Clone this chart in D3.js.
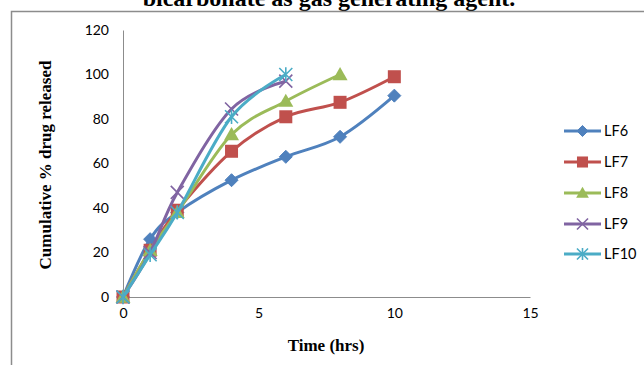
<!DOCTYPE html>
<html>
<head>
<meta charset="utf-8">
<script src="https://cdn.jsdelivr.net/npm/d3@7"></script>
<style>
  html, body { margin: 0; padding: 0; background: #fff; }
  svg { display: block; }
</style>
</head>
<body>
<svg id="chart" width="644" height="365"></svg>
<script>
// Dissolution profiles: time (hrs) vs cumulative % drug released
const seriesNames = ["LF6", "LF7", "LF8", "LF9", "LF10"];
const timesLF6 = [0, 1, 2, 4, 6, 8, 10];
const valuesLF6 = [0, 26, 38, 52.5, 63, 72, 90.5];
const timesLF7 = [0, 1, 2, 4, 6, 8, 10];
const valuesLF7 = [0, 21, 39, 65.5, 81, 87.5, 99];
const timesLF8 = [0, 1, 2, 4, 6, 8];
const valuesLF8 = [0, 21, 38, 73, 88, 100];
const timesLF9 = [0, 1, 2, 4, 6];
const valuesLF9 = [0, 20, 47, 84.5, 97];
const timesLF10 = [0, 1, 2, 4, 6];
const valuesLF10 = [0, 19, 38, 81, 100];
const xTicks = [0, 5, 10, 15];
const yTicks = [0, 20, 40, 60, 80, 100, 120];
const colors = ["#4F81BD", "#C0504D", "#9BBB59", "#8064A2", "#4BACC6"];
const markers = ["diamond", "square", "triangle", "cross", "star"];

const allTimes = [timesLF6, timesLF7, timesLF8, timesLF9, timesLF10];
const allValues = [valuesLF6, valuesLF7, valuesLF8, valuesLF9, valuesLF10];
const series = seriesNames.map((name, i) => ({
  name, color: colors[i], marker: markers[i],
  points: allTimes[i].map((t, j) => ({ t, v: allValues[i][j] }))
}));

const svg = d3.select("#chart");

// Caption line, sitting above the chart frame
svg.append("text")
  .attr("x", 329).attr("y", 6)
  .attr("text-anchor", "middle")
  .attr("font-family", "'Liberation Serif', 'Times New Roman', serif")
  .attr("font-weight", "bold").attr("font-size", 24)
  .attr("fill", "#000")
  .text("bicarbonate as gas generating agent.");

// Chart frame
svg.append("path")
  .attr("d", "M11.5,365 V11.5 H644")
  .attr("fill", "none").attr("stroke", "#8c8c8c").attr("stroke-width", 1.5);

const x = d3.scaleLinear().domain([0, 15]).range([123, 530]);
const y = d3.scaleLinear().domain([0, 120]).range([297, 30]);

const labelFont = "Lato, 'Open Sans', sans-serif";

// Y axis
const yAxis = svg.append("g").attr("transform", `translate(${x(0)},0)`)
  .call(d3.axisLeft(y).tickValues(yTicks).tickSize(0).tickPadding(14));
yAxis.select(".domain").attr("stroke", "#8c8c8c");
yAxis.selectAll("text").attr("font-family", labelFont).attr("font-size", 14).attr("fill", "#000");

// X axis
const xAxis = svg.append("g").attr("transform", `translate(0,${y(0)})`)
  .call(d3.axisBottom(x).tickValues(xTicks).tickSize(0).tickPadding(11));
xAxis.select(".domain").attr("stroke", "#8c8c8c");
xAxis.selectAll("text").attr("font-family", labelFont).attr("font-size", 14).attr("fill", "#000");

// Axis titles
svg.append("text")
  .attr("x", 326).attr("y", 351)
  .attr("text-anchor", "middle")
  .attr("font-family", "'Liberation Serif', 'Times New Roman', serif")
  .attr("font-weight", "bold").attr("font-size", 17)
  .text("Time (hrs)");

svg.append("text")
  .attr("transform", "translate(51,165) rotate(-90)")
  .attr("text-anchor", "middle")
  .attr("font-family", "'Liberation Serif', 'Times New Roman', serif")
  .attr("font-weight", "bold").attr("font-size", 17)
  .text("Cumulative % drug released");

// Marker drawing
function drawMarker(g, type, color, cx, cy, scale) {
  const s = scale || 1;
  if (type === "diamond") {
    const r = 6.5 * s;
    g.append("path").attr("d", `M${cx},${cy - r}L${cx + r},${cy}L${cx},${cy + r}L${cx - r},${cy}Z`)
      .attr("fill", color).attr("stroke", color).attr("stroke-width", 1);
  } else if (type === "square") {
    const r = 6.5 * s;
    g.append("rect").attr("x", cx - r).attr("y", cy - r).attr("width", 2 * r).attr("height", 2 * r)
      .attr("fill", color);
  } else if (type === "triangle") {
    const r = 7.5 * s;
    g.append("path").attr("d", `M${cx},${cy - r}L${cx + r},${cy + r * 0.75}L${cx - r},${cy + r * 0.75}Z`)
      .attr("fill", color);
  } else if (type === "cross") {
    const r = 6.5 * s;
    g.append("path").attr("d", `M${cx - r},${cy - r}L${cx + r},${cy + r}M${cx - r},${cy + r}L${cx + r},${cy - r}`)
      .attr("stroke", color).attr("stroke-width", 1.6).attr("fill", "none");
  } else if (type === "star") {
    const r = 6.5 * s;
    g.append("path").attr("d", `M${cx - r},${cy - r}L${cx + r},${cy + r}M${cx - r},${cy + r}L${cx + r},${cy - r}M${cx},${cy - r * 1.1}L${cx},${cy + r * 1.1}`)
      .attr("stroke", color).attr("stroke-width", 1.6).attr("fill", "none");
  }
}

const line = d3.line()
  .x(d => x(d.t)).y(d => y(d.v))
  .curve(d3.curveCatmullRom.alpha(0));

const plot = svg.append("g");
series.forEach(s => {
  const g = plot.append("g");
  g.append("path").datum(s.points)
    .attr("d", line)
    .attr("fill", "none").attr("stroke", s.color).attr("stroke-width", 3)
    .attr("stroke-linejoin", "round");
  s.points.forEach(p => drawMarker(g, s.marker, s.color, x(p.t), y(p.v)));
});

// Legend
const legendY = [131, 162, 193, 224, 254];
const legend = svg.append("g");
series.forEach((s, i) => {
  const ly = legendY[i];
  legend.append("line").attr("x1", 564).attr("x2", 601).attr("y1", ly).attr("y2", ly)
    .attr("stroke", s.color).attr("stroke-width", 3);
  drawMarker(legend, s.marker, s.color, 582.5, ly, 0.85);
  legend.append("text").attr("x", 604).attr("y", ly + 5)
    .attr("font-family", labelFont).attr("font-size", 14.5).attr("fill", "#000")
    .text(s.name);
});
</script>
</body>
</html>
